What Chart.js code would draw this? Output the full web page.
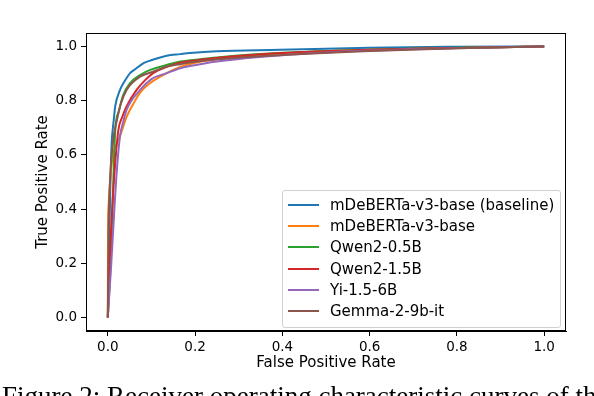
<!DOCTYPE html>
<html>
<head>
<meta charset="utf-8">
<script src="https://cdn.jsdelivr.net/npm/chart.js@4.4.0/dist/chart.umd.min.js"></script>
<style>
  body { margin: 0; background: #fff; }
  #wrap { position: relative; width: 594px; height: 396px; overflow: hidden; }
  #legend {
    position: absolute; left: 282px; top: 190px; width: 279px; height: 138px;
    border: 1px solid #d0d0d0; border-radius: 3px; background: rgba(255,255,255,0.8);
    font: 15px "DejaVu Sans"; color: #000; padding-top: 3px; box-sizing: border-box;
  }
  .row { height: 21.3px; display: flex; align-items: center; }
  .swatch { width: 31px; height: 2px; margin-left: 5px; margin-right: 11px; }
  #caption {
    position: absolute; left: 2px; top: 383px; white-space: nowrap;
    font: 27px/27px "Liberation Serif"; color: #000;
  }
</style>
</head>
<body>
<div id="wrap">
  <canvas id="roc"></canvas>
  <div id="legend"></div>
  <div id="caption">Figure 2: Receiver operating characteristic curves of the</div>
</div>
<script>
// ROC curves
var names = ['mDeBERTa-v3-base (baseline)', 'mDeBERTa-v3-base', 'Qwen2-0.5B', 'Qwen2-1.5B', 'Yi-1.5-6B', 'Gemma-2-9b-it'];
var colors = ['#1f77b4', '#ff7f0e', '#2ca02c', '#d62728', '#9467bd', '#8c564b'];

var baselineFpr = [0, 0.002, 0.006, 0.009, 0.011, 0.013, 0.017, 0.028, 0.036, 0.051, 0.059, 0.082, 0.097, 0.135, 0.166, 0.188, 0.25, 0.395, 0.6, 0.8, 1.0];
var baselineTpr = [0, 0.2, 0.5, 0.65, 0.69, 0.72, 0.78, 0.84, 0.865, 0.902, 0.912, 0.939, 0.948, 0.966, 0.972, 0.976, 0.983, 0.988, 0.996, 0.999, 1.0];

var mdebertaFpr = [0, 0.0005, 0.002, 0.006, 0.012, 0.02, 0.028, 0.043, 0.059, 0.074, 0.097, 0.135, 0.166, 0.2, 0.3, 0.4, 0.6, 0.8, 1.0];
var mdebertaTpr = [0, 0.3, 0.42, 0.52, 0.6, 0.64, 0.67, 0.74, 0.79, 0.83, 0.865, 0.902, 0.925, 0.94, 0.962, 0.975, 0.988, 0.995, 1.0];

var qwen05Fpr = [0, 0.005, 0.009, 0.017, 0.025, 0.035, 0.051, 0.074, 0.097, 0.135, 0.166, 0.188, 0.25, 0.4, 0.6, 0.8, 1.0];
var qwen05Tpr = [0, 0.15, 0.32, 0.69, 0.76, 0.82, 0.865, 0.895, 0.914, 0.932, 0.945, 0.949, 0.96, 0.977, 0.989, 0.996, 1.0];

var qwen15Fpr = [0, 0.004, 0.01, 0.016, 0.024, 0.033, 0.043, 0.066, 0.085, 0.104, 0.135, 0.166, 0.188, 0.25, 0.4, 0.6, 0.8, 1.0];
var qwen15Tpr = [0, 0.2, 0.4, 0.55, 0.69, 0.74, 0.779, 0.84, 0.875, 0.902, 0.925, 0.94, 0.946, 0.958, 0.976, 0.988, 0.995, 1.0];

var yiFpr = [0, 0.008, 0.015, 0.021, 0.028, 0.035, 0.043, 0.074, 0.1, 0.135, 0.166, 0.188, 0.25, 0.4, 0.6, 0.8, 1.0];
var yiTpr = [0, 0.2, 0.4, 0.55, 0.67, 0.72, 0.766, 0.84, 0.88, 0.902, 0.92, 0.928, 0.945, 0.968, 0.985, 0.994, 1.0];

var gemmaFpr = [0, 0.0015, 0.005, 0.012, 0.021, 0.03, 0.043, 0.074, 0.1, 0.135, 0.166, 0.188, 0.25, 0.4, 0.6, 0.8, 1.0];
var gemmaTpr = [0, 0.3, 0.5, 0.65, 0.73, 0.79, 0.84, 0.889, 0.905, 0.926, 0.935, 0.941, 0.953, 0.969, 0.984, 0.994, 1.0];

var xTicks = [0, 0.2, 0.4, 0.6, 0.8, 1.0];
var yTicks = [0, 0.2, 0.4, 0.6, 0.8, 1.0];

var curves = [
  [baselineFpr, baselineTpr],
  [mdebertaFpr, mdebertaTpr],
  [qwen05Fpr, qwen05Tpr],
  [qwen15Fpr, qwen15Tpr],
  [yiFpr, yiTpr],
  [gemmaFpr, gemmaTpr]
];

Chart.defaults.font.family = 'DejaVu Sans';
Chart.defaults.color = '#000';

// full box round the plot, like matplotlib
var frame = {
  id: 'frame',
  afterDraw: function(c) {
    var a = c.chartArea, ctx = c.ctx;
    ctx.save();
    ctx.strokeStyle = '#000';
    ctx.lineWidth = 1;
    ctx.strokeRect(a.left + 0.5, a.top + 0.5, a.right - a.left - 1, a.bottom - a.top - 1);
    ctx.restore();
  }
};

var datasets = curves.map(function(c, i) {
  return {
    label: names[i],
    data: c[0].map(function(x, j) { return { x: x, y: c[1][j] }; }),
    borderColor: colors[i],
    backgroundColor: colors[i],
    borderWidth: 2,
    pointRadius: 0,
    fill: false,
    cubicInterpolationMode: 'monotone',
    order: names.length - i
  };
});

var tickFont = { size: 13.5 };
var titleFont = { size: 15 };

var chart = new Chart(document.getElementById('roc'), {
  type: 'line',
  data: { datasets: datasets },
  plugins: [frame],
  options: {
    responsive: true,
    maintainAspectRatio: false,
    animation: false,
    layout: { padding: { left: 34, top: 33, right: 28, bottom: 24 } },
    plugins: { legend: { display: false }, tooltip: { enabled: false } },
    scales: {
      x: {
        type: 'linear', min: -0.05, max: 1.05,
        afterBuildTicks: function(s) { s.ticks = xTicks.map(function(v) { return { value: v }; }); },
        afterFit: function(s) { s.height = 41; },
        ticks: { font: tickFont, padding: 3, maxRotation: 0, autoSkip: false,
                 callback: function(v) { return v.toFixed(1); } },
        grid: { drawOnChartArea: false, drawTicks: true, tickLength: 5, color: '#000' },
        border: { color: '#000' },
        title: { display: true, text: 'False Positive Rate', font: titleFont, padding: 0 }
      },
      y: {
        type: 'linear', min: -0.05, max: 1.05,
        afterBuildTicks: function(s) { s.ticks = yTicks.map(function(v) { return { value: v }; }); },
        afterFit: function(s) { s.width = 52; },
        ticks: { font: tickFont, padding: 4, autoSkip: false,
                 callback: function(v) { return v.toFixed(1); } },
        grid: { drawOnChartArea: false, drawTicks: true, tickLength: 5, color: '#000' },
        border: { color: '#000' },
        title: { display: true, text: 'True Positive Rate', font: titleFont, padding: 0 }
      }
    }
  }
});

// legend inside the plot, built from the chart's datasets
var legend = document.getElementById('legend');
chart.data.datasets.forEach(function(d) {
  var row = document.createElement('div');
  row.className = 'row';
  var sw = document.createElement('span');
  sw.className = 'swatch';
  sw.style.background = d.borderColor;
  var tx = document.createElement('span');
  tx.textContent = d.label;
  row.appendChild(sw);
  row.appendChild(tx);
  legend.appendChild(row);
});
</script>
</body>
</html>
